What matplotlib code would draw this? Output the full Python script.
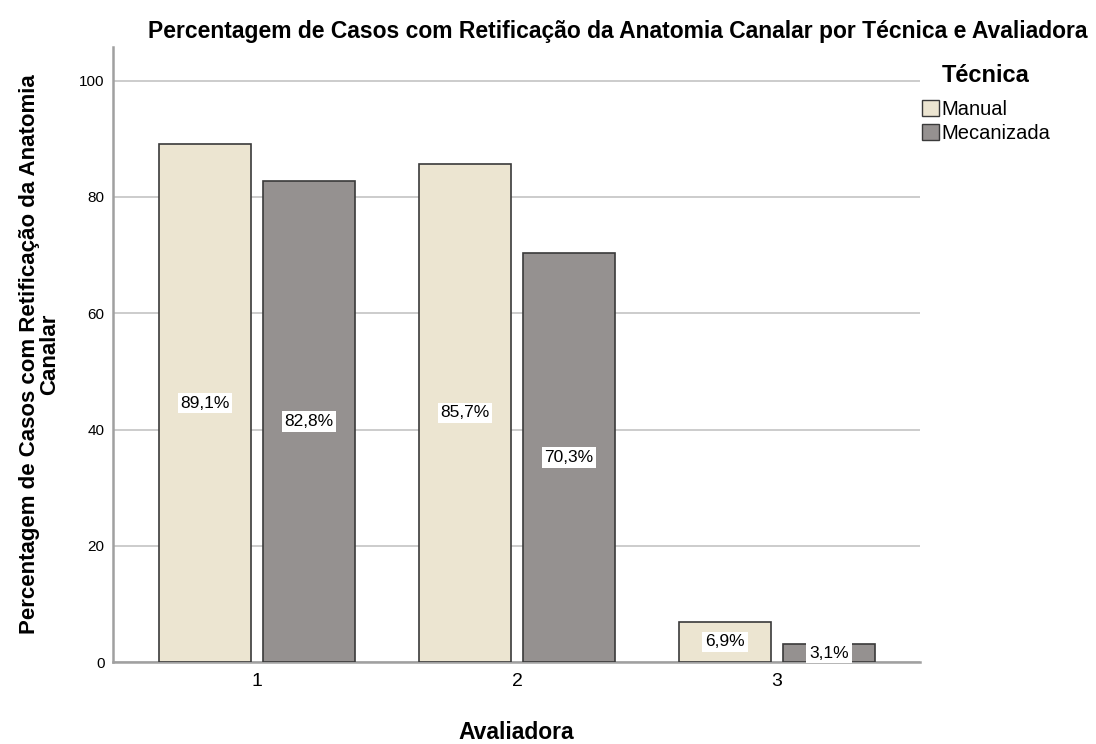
import matplotlib.pyplot as plt
import numpy as np
from matplotlib.patches import Patch

plt.rcParams['font.family'] = ['Liberation Sans', 'DejaVu Sans']

avaliadoras = ['1', '2', '3']
tecnicas = ['Manual', 'Mecanizada']
manual = [89.1, 85.7, 6.9]
mecanizada = [82.8, 70.3, 3.1]
cores = ['#ECE5D1', '#959190']

fig = plt.figure(figsize=(10.96, 7.44), dpi=100)
ax = fig.add_axes([0.1031, 0.1102, 0.7363, 0.8266])

x = np.arange(1, len(avaliadoras) + 1)
w = 0.355
off = 0.2
for vals, dx, cor in [(manual, -off, cores[0]), (mecanizada, off, cores[1])]:
    bars = ax.bar(x + dx, vals, width=w, color=cor, edgecolor='#3a3a3a',
                  linewidth=1.2, zorder=3)
    for b, v in zip(bars, vals):
        ax.text(b.get_x() + b.get_width() / 2, v / 2,
                f"{v:.1f}%".replace('.', ','), ha='center', va='center',
                fontsize=12.5, zorder=4,
                bbox=dict(facecolor='white', edgecolor='none', pad=2))

ax.set_xlim(0.446, 3.55)
ax.set_ylim(0, 105.8)
ax.set_xticks(x)
ax.set_xticklabels(avaliadoras, fontsize=14)
ax.set_yticks([0, 20, 40, 60, 80, 100])
ax.tick_params(axis='y', length=0, labelsize=11, pad=6)
ax.tick_params(axis='x', length=0, pad=8)
ax.yaxis.grid(True, color='#c4c4c4', linewidth=1.2, zorder=0)
ax.set_axisbelow(True)
for s in ['top', 'right']:
    ax.spines[s].set_visible(False)
ax.spines['left'].set_color('#a0a0a0')
ax.spines['left'].set_linewidth(1.8)
ax.spines['bottom'].set_color('#a0a0a0')
ax.spines['bottom'].set_linewidth(1.8)

ax.set_xlabel('Avaliadora', fontsize=16.5, fontweight='bold')
ax.xaxis.set_label_coords(0.5, -0.096)
ax.set_ylabel('Percentagem de Casos com Retificação da Anatomia\nCanalar',
              fontsize=16, fontweight='bold', linespacing=1.0)
ax.yaxis.set_label_coords(-0.065, 0.5)
fig.text(0.564, 0.958,
         'Percentagem de Casos com Retificação da Anatomia Canalar por Técnica e Avaliadora',
         ha='center', va='center', fontsize=16.5, fontweight='bold')

fig.text(0.8595, 0.898, 'Técnica', ha='left', va='center',
         fontsize=17, fontweight='bold')
handles = [Patch(facecolor=c, edgecolor='#3a3a3a', label=t) for c, t in zip(cores, tecnicas)]
leg = fig.legend(handles=handles, loc='upper left',
                 bbox_to_anchor=(0.841, 0.866), frameon=False, fontsize=14.5,
                 handlelength=0.85, handleheight=0.85, handletextpad=0.15,
                 labelspacing=0.25, borderaxespad=0, borderpad=0)

fig.savefig('out.png', dpi=100)
